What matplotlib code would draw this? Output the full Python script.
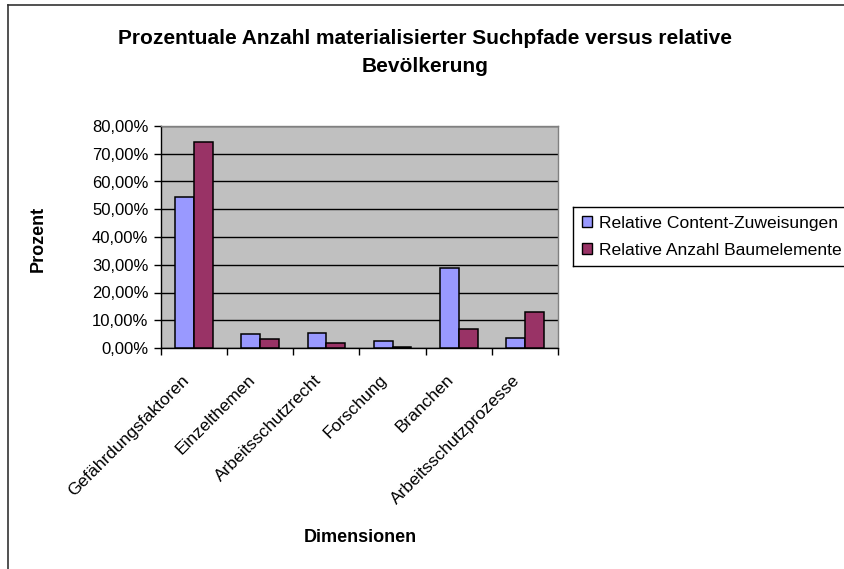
import matplotlib
matplotlib.use("Agg")
import matplotlib.pyplot as plt
import numpy as np
from matplotlib.lines import Line2D
from matplotlib.transforms import ScaledTranslation
from matplotlib.ticker import FuncFormatter, FixedLocator

plt.rcParams["font.family"] = ["Liberation Sans", "DejaVu Sans"]

# Dimensionen und Anteile (in Prozent)
dimensionen = ["Gefährdungsfaktoren", "Einzelthemen", "Arbeitsschutzrecht",
               "Forschung", "Branchen", "Arbeitsschutzprozesse"]
content_zuweisungen = [54.3, 5.0, 5.5, 2.5, 29.0, 3.5]
baumelemente = [74.3, 3.1, 1.9, 0.5, 7.0, 13.0]
serien = ["Relative Content-Zuweisungen", "Relative Anzahl Baumelemente"]
y_ticks = [0, 10, 20, 30, 40, 50, 60, 70, 80]

W, H = 845, 569
fig = plt.figure(figsize=(W / 100, H / 100), dpi=100)


def fig_line(xs, ys, color="#333333", lw=1.2):
    # Linie in Pixelkoordinaten (y von oben gezählt)
    fig.add_artist(Line2D([v / W for v in xs], [1 - v / H for v in ys],
                          transform=fig.transFigure, color=color, linewidth=lw))


# Rahmen links und oben (rechts/unten abgeschnitten)
fig_line([8, 8], [4.5, H])
fig_line([8, W], [4.5, 4.5])

ax = fig.add_axes([161 / W, 1 - 348 / H, 397 / W, 222 / H])
ax.set_facecolor("#C0C0C0")

x = np.arange(len(dimensionen))
w = 1 / 3.5  # gap width 150 %
ax.bar(x - w / 2, content_zuweisungen, w, color="#9999FF",
       edgecolor="black", linewidth=1.1, label=serien[0], zorder=3)
ax.bar(x + w / 2, baumelemente, w, color="#993366",
       edgecolor="black", linewidth=1.1, label=serien[1], zorder=3)

ax.set_xlim(-0.5, len(dimensionen) - 0.5)
ax.set_ylim(0, 80)
ax.set_yticks(y_ticks)
ax.yaxis.set_major_formatter(
    FuncFormatter(lambda v, p: f"{v:.2f}".replace(".", ",") + "%"))
ax.grid(axis="y", color="black", linewidth=1.0, zorder=1)

# x-Ticks an den Gruppengrenzen, Beschriftung in der Mitte
ax.xaxis.set_major_locator(FixedLocator(np.arange(-0.5, len(dimensionen), 1.0)))
ax.xaxis.set_major_formatter(FuncFormatter(lambda v, p: ""))
ax.xaxis.set_minor_locator(FixedLocator(x))
ax.set_xticklabels(dimensionen, minor=True, rotation=45, ha="right",
                   va="top", rotation_mode="anchor", fontsize=12.5)
ax.tick_params(axis="x", which="minor", length=0, pad=8)
ax.tick_params(axis="x", which="major", length=5, width=1, direction="out")
ax.tick_params(axis="y", length=5, width=1, direction="out", labelsize=12, pad=4)

shift = ScaledTranslation(-13 / 100, -13 / 100, fig.dpi_scale_trans)
for lbl in ax.get_xticklabels(minor=True):
    lbl.set_transform(lbl.get_transform() + shift)

for s in ["left", "bottom"]:
    ax.spines[s].set_color("black")
    ax.spines[s].set_linewidth(1.0)
for s in ["top", "right"]:
    ax.spines[s].set_color("#808080")
    ax.spines[s].set_linewidth(1.0)

fig.text(0.503, 1 - 52.5 / H,
         "Prozentuale Anzahl materialisierter Suchpfade versus relative\nBevölkerung",
         ha="center", va="center", fontsize=15, fontweight="bold", linespacing=1.65)
fig.text(38 / W, 1 - 239 / H, "Prozent", rotation=90, ha="center", va="center",
         fontsize=13, fontweight="bold")
fig.text(360 / W, 1 - 537 / H, "Dimensionen", ha="center", va="center",
         fontsize=13, fontweight="bold")

# Legende ohne eigenen Rahmen; der Rahmen läuft rechts über den Rand hinaus
leg = fig.legend(loc="upper left", bbox_to_anchor=(573 / W, 1 - 207 / H),
                 fontsize=12.6, frameon=False,
                 handlelength=0.6, handleheight=0.6, handletextpad=0.4,
                 borderpad=0.5, labelspacing=0.7, borderaxespad=0)
for h in leg.legend_handles:
    h.set_edgecolor("black")
    h.set_linewidth(1.0)
fig_line([573, 573], [207, 266], color="black", lw=1.0)
fig_line([573, W], [207, 207], color="black", lw=1.0)
fig_line([573, W], [266, 266], color="black", lw=1.0)

fig.savefig("out.png", dpi=100)
